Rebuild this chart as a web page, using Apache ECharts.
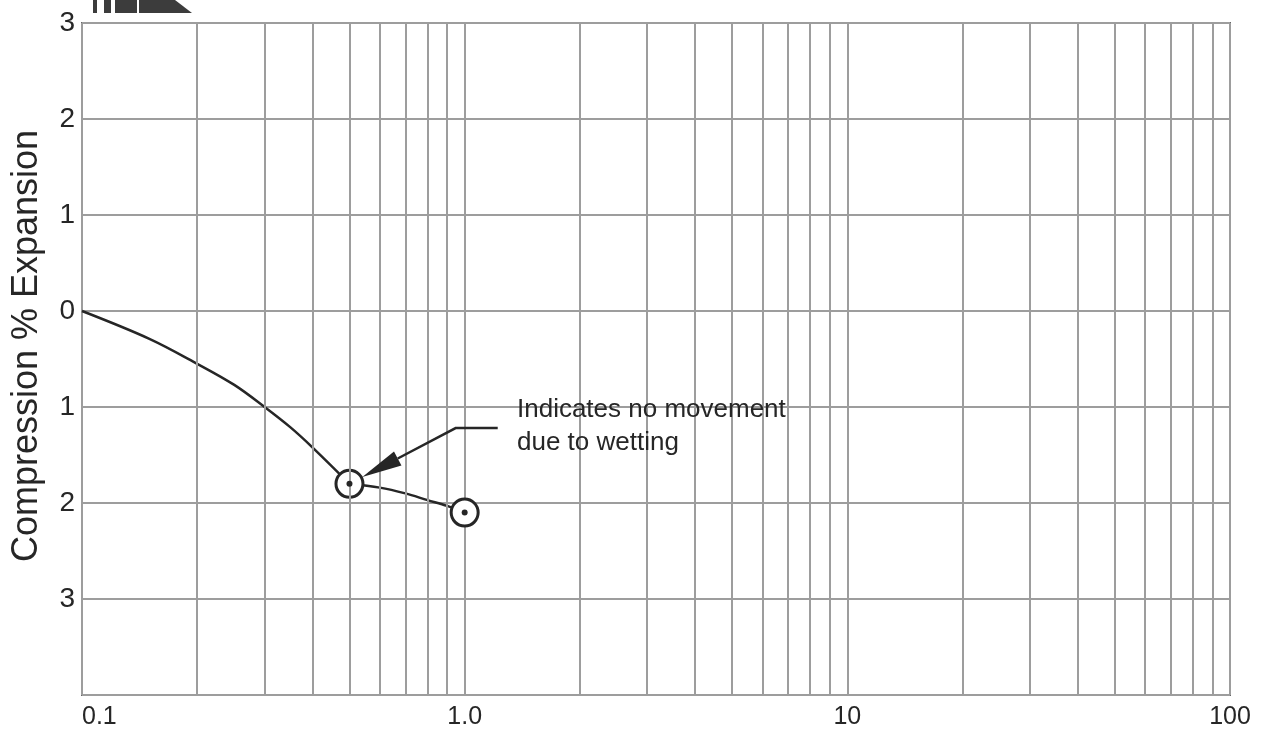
<!DOCTYPE html>
<html>
<head>
<meta charset="utf-8">
<title>Compression / Expansion vs Load</title>
<script src="https://cdn.jsdelivr.net/npm/echarts@6/dist/echarts.min.js"></script>
<style>
  html, body { margin: 0; padding: 0; background: #fff; }
  #chart { width: 1274px; height: 732px; }
</style>
</head>
<body>
<div id="chart"></div>
<script>
// Loading curve before wetting (load, % movement; negative = compression)
const loadCurveX = [0.1, 0.15, 0.2, 0.25, 0.3, 0.35, 0.4, 0.5];
const loadCurveY = [0, -0.29, -0.55, -0.77, -1.0, -1.21, -1.42, -1.8];
// Curve after wetting, continuing the loading
const wetCurveX = [0.5, 0.6, 0.7, 0.8, 0.9, 1.0];
const wetCurveY = [-1.8, -1.84, -1.9, -1.97, -2.03, -2.1];
// Circled readings
const readingX = [0.5, 1.0];
const readingY = [-1.8, -2.1];

// Axis ticks
const xTickLabels = ['0.1', '1.0', '10', '100'];
const xMinorGrid = [0.2, 0.3, 0.4, 0.5, 0.6, 0.7, 0.8, 0.9,
                    2, 3, 4, 5, 6, 7, 8, 9,
                    20, 30, 40, 50, 60, 70, 80, 90];
const yTickValues = [3, 2, 1, 0, -1, -2, -3];
const yTickLabels = ['3', '2', '1', '0', '1', '2', '3'];

// Annotation (data coordinates)
const noteText = 'Indicates no movement\ndue to wetting';
const noteTarget = [0.5, -1.8];
const noteElbow = [0.947, -1.22];
const noteEnd = [1.22, -1.22];
const noteTextAt = [1.37, -1.205];

const FONT = '"Liberation Sans", Arial, sans-serif';
const GRID_COLOR = '#9d9d9d';
const INK = '#262626';

const zip = (xs, ys) => xs.map((x, i) => [x, ys[i]]);

const chart = echarts.init(document.getElementById('chart'), null, { renderer: 'canvas' });

chart.setOption({
  animation: false,
  backgroundColor: '#ffffff',
  grid: {
    left: 82, right: 44, top: 23, bottom: 37,
    outerBoundsMode: 'none',
    containLabel: false,
    show: true, borderColor: '#666666', borderWidth: 2, backgroundColor: 'transparent'
  },
  xAxis: {
    type: 'log',
    logBase: 10,
    min: 0.1,
    max: 100,
    axisLine: { show: false },
    axisTick: { show: false },
    splitLine: { show: true, lineStyle: { color: GRID_COLOR, width: 2 } },
    axisLabel: {
      color: INK,
      fontFamily: FONT,
      fontSize: 25,
      margin: 10,
      alignMinLabel: 'left',
      formatter: v => xTickLabels[Math.round(Math.log10(v)) + 1] || ''
    }
  },
  yAxis: {
    type: 'value',
    min: -4,
    max: 3,
    interval: 1,
    name: 'Compression % Expansion',
    nameLocation: 'middle',
    nameRotate: 90,
    nameGap: 37,
    nameTextStyle: { color: INK, fontFamily: FONT, fontSize: 36, padding: [0, 0, 0, 26] },
    axisLine: { show: false },
    axisTick: { show: false },
    splitLine: { show: true, lineStyle: { color: GRID_COLOR, width: 2 } },
    axisLabel: {
      color: INK,
      fontFamily: FONT,
      fontSize: 28,
      margin: 7,
      formatter: v => {
        const i = yTickValues.indexOf(Math.round(v));
        return i >= 0 ? yTickLabels[i] : '';
      }
    }
  },
  series: [
    {
      // minor vertical rules inside each decade
      type: 'line',
      data: [],
      silent: true,
      markLine: {
        silent: true,
        symbol: 'none',
        label: { show: false },
        lineStyle: { color: GRID_COLOR, width: 2, type: 'solid' },
        data: xMinorGrid.map(v => ({ xAxis: v }))
      },
      z: 1
    },
    {
      name: 'loading',
      type: 'line',
      data: zip(loadCurveX, loadCurveY),
      smooth: 0.35,
      showSymbol: false,
      lineStyle: { color: INK, width: 2.5 },
      z: 3
    },
    {
      name: 'wetted',
      type: 'line',
      data: zip(wetCurveX, wetCurveY),
      smooth: 0.35,
      showSymbol: false,
      lineStyle: { color: INK, width: 2.5 },
      z: 3
    },
    {
      name: 'readings',
      type: 'scatter',
      data: zip(readingX, readingY),
      symbol: 'circle',
      symbolSize: 27,
      clip: false,
      itemStyle: { color: '#ffffff', borderColor: INK, borderWidth: 3, opacity: 1 },
      z: 4
    },
    {
      name: 'reading centres',
      type: 'scatter',
      data: zip(readingX, readingY),
      symbol: 'circle',
      symbolSize: 6,
      clip: false,
      itemStyle: { color: INK, opacity: 1 },
      z: 5
    }
  ]
});

// Leader with arrowhead and note, placed through the chart's own coordinate system
function drawNote() {
  const px = p => chart.convertToPixel({ gridIndex: 0 }, p);
  const c = px(noteTarget);
  const e = px(noteElbow);
  const f = px(noteEnd);
  const t = px(noteTextAt);
  const dx = e[0] - c[0], dy = e[1] - c[1];
  const len = Math.hypot(dx, dy);
  const ux = dx / len, uy = dy / len;
  const r = 14.5;
  const tip = [c[0] + ux * r, c[1] + uy * r];
  const headLen = 40, headHalf = 8;
  const base = [tip[0] + ux * headLen, tip[1] + uy * headLen];
  const nx = -uy, ny = ux;

  // header mark cropped at the top edge
  const logo = [
    { type: 'rect', shape: { x: 93, y: 0, width: 4, height: 13 } },
    { type: 'rect', shape: { x: 104, y: 0, width: 7, height: 13 } },
    { type: 'rect', shape: { x: 115, y: 0, width: 22, height: 13 } },
    { type: 'polygon', shape: { points: [[139, 0], [175, 0], [192, 13], [139, 13]] } }
  ].map(g => Object.assign(g, { style: { fill: '#3c3c3c' }, silent: true }));

  chart.setOption({
    graphic: [
      ...logo,
      {
        type: 'polyline',
        silent: true,
        z: 10,
        shape: { points: [base, e, f] },
        style: { stroke: INK, lineWidth: 2.5, fill: null }
      },
      {
        type: 'polygon',
        silent: true,
        z: 10,
        shape: {
          points: [
            tip,
            [base[0] + nx * headHalf, base[1] + ny * headHalf],
            [base[0] - nx * headHalf, base[1] - ny * headHalf]
          ]
        },
        style: { fill: INK }
      },
      {
        type: 'text',
        silent: true,
        z: 10,
        x: t[0],
        y: t[1],
        style: {
          text: noteText,
          fill: INK,
          font: '26px ' + FONT,
          lineHeight: 33,
          align: 'left',
          verticalAlign: 'middle'
        }
      }
    ]
  });
}
drawNote();
</script>
</body>
</html>
